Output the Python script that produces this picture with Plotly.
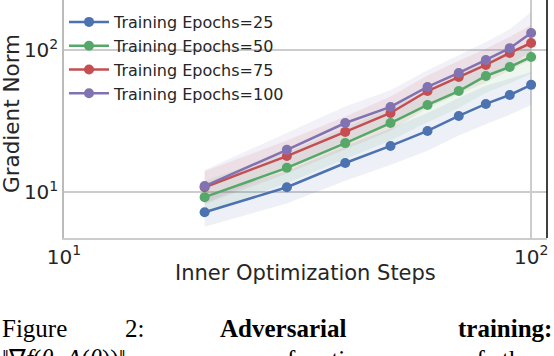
import plotly.graph_objects as go

steps = [20, 30, 40, 50, 60, 70, 80, 90, 100]
labels = ["Training Epochs=25", "Training Epochs=50", "Training Epochs=75", "Training Epochs=100"]

mean_25 = [7.2, 10.8, 16.0, 21.1, 26.9, 34.3, 41.7, 48.2, 56.8]
low_25 = [5.7, 8.3, 12.0, 15.5, 19.5, 25.0, 30.0, 35.0, 41.0]
high_25 = [9.5, 14.0, 21.0, 28.0, 36.0, 46.0, 56.0, 63.0, 70.0]

mean_50 = [9.2, 14.8, 22.1, 30.6, 41.0, 51.4, 65.6, 75.9, 89.3]
low_50 = [7.2, 11.5, 17.0, 23.0, 31.0, 39.0, 50.0, 58.0, 68.0]
high_50 = [12.0, 19.0, 28.5, 39.0, 52.0, 66.0, 84.0, 98.0, 115.0]

mean_75 = [10.8, 17.9, 26.5, 36.0, 51.4, 64.6, 78.4, 95.3, 112.0]
low_75 = [8.2, 13.5, 20.0, 27.0, 39.0, 49.0, 59.0, 72.0, 85.0]
high_75 = [14.0, 23.0, 34.0, 47.0, 66.0, 84.0, 102.0, 124.0, 150.0]

mean_100 = [11.0, 19.8, 30.6, 39.7, 54.9, 68.9, 85.1, 103.0, 131.8]
low_100 = [8.3, 14.8, 23.0, 30.0, 41.0, 52.0, 64.0, 78.0, 98.0]
high_100 = [14.3, 26.0, 40.0, 52.0, 72.0, 92.0, 114.0, 140.0, 185.0]

means = [mean_25, mean_50, mean_75, mean_100]
lows = [low_25, low_50, low_75, low_100]
highs = [high_25, high_50, high_75, high_100]
colors = ["#4C72B0", "#55A868", "#C44E52", "#8172B2"]
fills = ["rgba(76,114,176,0.10)", "rgba(85,168,104,0.10)", "rgba(196,78,82,0.10)", "rgba(129,114,178,0.10)"]

fig = go.Figure()
for lo, hi, fc in zip(lows, highs, fills):
    fig.add_trace(go.Scatter(
        x=steps + steps[::-1], y=hi + lo[::-1], fill="toself", fillcolor=fc,
        line=dict(width=0), mode="lines", showlegend=False, hoverinfo="skip"))
for i, (m, c, lab) in enumerate(zip(means, colors, labels)):
    fig.add_trace(go.Scatter(
        x=steps, y=m, mode="lines+markers", name=lab, legendgroup=str(i),
        line=dict(color=c, width=2.5), marker=dict(color=c, size=10)))

W, H = 554, 356
L, R, T, B = 64, 7, 0, 118
pw, ph = W - L - R, H - T - B

def px(xp):
    return (xp - L) / pw

def py(yp):
    return (H - B - yp) / ph

tick_font = dict(family="DejaVu Sans", size=20, color="#262626")
fig.update_layout(
    width=W, height=H, margin=dict(l=L, r=R, t=T, b=B, autoexpand=False),
    paper_bgcolor="white", plot_bgcolor="white",
    font=dict(family="DejaVu Sans", color="#262626"),
    xaxis=dict(type="log", range=[1, 2.034], tickvals=[10, 100],
               ticktext=["10<sup>1</sup>", "10<sup>2</sup>"], tickfont=tick_font,
               showgrid=True, gridcolor="#cccccc", gridwidth=1.5, automargin=False,
               showline=True, linecolor="#cccccc", linewidth=1.5, zeroline=False,
               ticks=""),
    yaxis=dict(type="log", range=[0.676, 2.352], tickvals=[10, 100],
               ticktext=["10<sup>1</sup>", "10<sup>2</sup>"], tickfont=tick_font,
               showgrid=True, gridcolor="#cccccc", gridwidth=1.5, automargin=False,
               showline=True, linecolor="#bbbbbb", linewidth=1.5, zeroline=False,
               ticks=""),
    legend=dict(x=px(64), y=py(5), xanchor="left", yanchor="top", itemwidth=40,
                bgcolor="rgba(0,0,0,0)", font=dict(family="DejaVu Sans", size=16, color="#262626"),
                tracegroupgap=0),
    showlegend=True,
)

fig.add_shape(type="line", xref="paper", yref="paper", x0=1, x1=1, y0=0, y1=1,
              line=dict(color="black", width=1.5))

fig.add_annotation(text="Inner Optimization Steps", x=px(305), y=py(273), xref="paper", yref="paper",
                   showarrow=False, font=dict(family="DejaVu Sans", size=21, color="#262626"),
                   xanchor="center", yanchor="middle")
fig.add_annotation(text="Gradient Norm", x=px(12), y=py(114), xref="paper", yref="paper",
                   showarrow=False, font=dict(family="DejaVu Sans", size=21.5, color="#262626"),
                   textangle=-90, xanchor="center", yanchor="middle")

serif = "Liberation Serif"
cap = [("Figure", 0, "left", False), ("2:", 123, "left", False),
       ("Adversarial", 218, "left", True), ("training:", 554, "right", True)]
for txt, xp, anc, bold in cap:
    fig.add_annotation(text=("<b>%s</b>" % txt) if bold else txt, x=px(xp), y=py(328),
                       xref="paper", yref="paper", showarrow=False, xanchor=anc, yanchor="middle",
                       font=dict(family=serif, size=25, color="black"))
cap2 = [("‖∇<i>f</i>(<i>θ</i>, <i>A</i>(<i>θ</i>))‖", 0, "left"), ("as a", 200, "left"),
        ("function", 285, "left"), ("of", 462, "left"), ("the", 500, "left")]
for txt, xp, anc in cap2:
    fig.add_annotation(text=txt, x=px(xp), y=py(359), xref="paper", yref="paper",
                       showarrow=False, xanchor=anc, yanchor="middle",
                       font=dict(family=serif, size=25, color="black"))

fig.write_html("out.html", config={"displayModeBar": False},
               post_script="document.body.style.margin='0';document.body.style.overflow='hidden';")
